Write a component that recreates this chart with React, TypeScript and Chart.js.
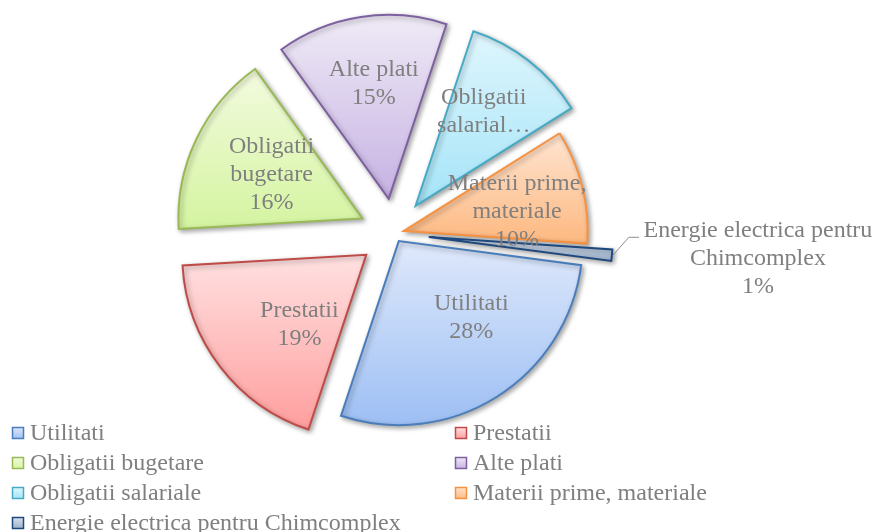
import React, { useEffect, useRef } from "react";
import { Chart, registerables } from "chart.js";

Chart.register(...registerables);

// ---------- data ----------
const categories = [
  "Utilitati",
  "Prestatii",
  "Obligatii bugetare",
  "Alte plati",
  "Obligatii salariale",
  "Materii prime, materiale",
  "Energie electrica pentru Chimcomplex",
];
const values = [28, 19, 16, 15, 11, 10, 1];
const sliceLabelLines = [
  ["Utilitati"],
  ["Prestatii"],
  ["Obligatii", "bugetare"],
  ["Alte plati"],
  ["Obligatii", "salarial…"],
  ["Materii prime,", "materiale"],
  ["Energie electrica pentru", "Chimcomplex"],
];
const showPercent = [true, true, true, true, false, true, true];

// ---------- styles ----------
const explode = [9, 35, 35, 35, 35, 10, 35];
const topColors = ["#dfe9fb", "#ffe1e1", "#f3fbdf", "#efeaf6", "#dff6fd", "#ffe5d1", "#d9e2ee"];
const bottomColors = ["#9dbff4", "#ff9e9e", "#d4f4a0", "#c6b2e3", "#a4e4f8", "#fdb880", "#9cb0cb"];
const borderColors = ["#4a7ebb", "#be4b48", "#98b954", "#7d60a0", "#46aac5", "#f69240", "#1f497d"];
// label placement: fraction of radius from exploded centre, angle shift in degrees
const labelDist = [0.574, 0.525, 0.549, 0.629, 0.63, 0.625, 0];
const labelShift = [-11.2, -8.7, 0.4, 1.3, -2.1, 4.5, 0];
const externalLabel = [false, false, false, false, false, false, true];
const legendCols = [12, 455];
const legendRowStart = 433;
const legendRowGap = 30;

const FONT = '24px "Liberation Serif", "Times New Roman", serif';
const TEXT_COLOR = "#7f7f7f";
const LINE_H = 28;

function sectorYRange(cx: number, cy: number, r: number, a0: number, a1: number) {
  const ys = [cy, cy + r * Math.sin(a0), cy + r * Math.sin(a1)];
  const TAU = Math.PI * 2;
  for (let k = -2; k <= 4; k++) {
    const a = Math.PI / 2 + k * Math.PI;
    if (a >= a0 && a <= a1) ys.push(cy + r * Math.sin(a));
  }
  void TAU;
  return [Math.min(...ys), Math.max(...ys)];
}

const piePlugin = {
  id: "piePlugin",
  afterDatasetUpdate(chart: any, args: any) {
    const meta = chart.getDatasetMeta(args.index);
    const ctx = chart.ctx;
    meta.data.forEach((el: any, i: number) => {
      const mid = (el.startAngle + el.endAngle) / 2;
      el.x = el.x + Math.cos(mid) * explode[i];
      el.y = el.y + Math.sin(mid) * explode[i];
      const [y0, y1] = sectorYRange(el.x, el.y, el.outerRadius, el.startAngle, el.endAngle);
      const g = ctx.createLinearGradient(0, y0, 0, y1);
      g.addColorStop(0, topColors[i]);
      g.addColorStop(1, bottomColors[i]);
      el.options = Object.assign({}, el.options, { backgroundColor: g });
    });
  },
  beforeDatasetsDraw(chart: any) {
    const ctx = chart.ctx;
    ctx.save();
    ctx.shadowColor = "rgba(0,0,0,0.35)";
    ctx.shadowBlur = 5;
    ctx.shadowOffsetX = 2;
    ctx.shadowOffsetY = 2;
  },
  afterDatasetsDraw(chart: any) {
    const ctx = chart.ctx;
    ctx.restore();
    const meta = chart.getDatasetMeta(0);
    const total = values.reduce((a, b) => a + b, 0);
    ctx.save();
    ctx.font = FONT;
    ctx.fillStyle = TEXT_COLOR;
    ctx.textAlign = "center";
    ctx.textBaseline = "middle";
    meta.data.forEach((el: any, i: number) => {
      const lines = sliceLabelLines[i].slice();
      if (showPercent[i]) lines.push(Math.round((values[i] / total) * 100) + "%");
      const mid = (el.startAngle + el.endAngle) / 2;
      const R = el.outerRadius;
      if (externalLabel[i]) {
        const ox = el.x + Math.cos(mid) * R;
        const oy = el.y + Math.sin(mid) * R;
        ctx.save();
        ctx.strokeStyle = "#8c8c8c";
        ctx.lineWidth = 1;
        ctx.beginPath();
        ctx.moveTo(ox + 1, oy);
        ctx.lineTo(ox + 17, oy - 18);
        ctx.lineTo(ox + 27, oy - 18);
        ctx.stroke();
        ctx.restore();
        lines.forEach((t, k) => ctx.fillText(t, ox + 146, oy - 25 + k * LINE_H));
        return;
      }
      const a = mid + (labelShift[i] * Math.PI) / 180;
      const px = el.x + Math.cos(a) * R * labelDist[i];
      const py = el.y + Math.sin(a) * R * labelDist[i];
      const n = lines.length;
      lines.forEach((t, k) => ctx.fillText(t, px, py + (k - (n - 1) / 2) * LINE_H));
    });
    ctx.restore();

    // legend (two columns)
    ctx.save();
    ctx.font = FONT;
    ctx.textBaseline = "middle";
    ctx.textAlign = "left";
    categories.forEach((name, i) => {
      const col = i % 2;
      const row = Math.floor(i / 2);
      const x = legendCols[col];
      const y = legendRowStart + row * legendRowGap;
      const g = ctx.createLinearGradient(0, y - 6, 0, y + 6);
      g.addColorStop(0, topColors[i]);
      g.addColorStop(1, bottomColors[i]);
      ctx.fillStyle = g;
      ctx.fillRect(x, y - 6, 12, 12);
      ctx.strokeStyle = borderColors[i];
      ctx.lineWidth = 1.5;
      ctx.strokeRect(x + 0.5, y - 5.5, 11, 11);
      ctx.fillStyle = TEXT_COLOR;
      ctx.fillText(name, x + 18, y + 1);
    });
    ctx.restore();
  },
};

export default function App() {
  const ref = useRef<HTMLCanvasElement | null>(null);
  useEffect(() => {
    if (!ref.current) return;
    const chart = new Chart(ref.current, {
      type: "pie",
      data: {
        labels: categories,
        datasets: [
          {
            data: values,
            backgroundColor: topColors,
            borderColor: borderColors,
            borderWidth: 2,
            borderJoinStyle: "miter",
          } as any,
        ],
      },
      options: {
        responsive: false,
        animation: false,
        rotation: 97.5,
        radius: 184,
        layout: { padding: { left: 0, right: 87, top: 0, bottom: 65 } },
        plugins: {
          legend: { display: false },
          tooltip: { enabled: false },
        },
        events: [],
      } as any,
      plugins: [piePlugin],
    });
    return () => chart.destroy();
  }, []);
  return (
    <div style={{ position: "absolute", left: 0, top: 0, width: 875, height: 532, background: "#fff" }}>
      <canvas ref={ref} width={875} height={532} style={{ width: 875, height: 532, display: "block" }} />
    </div>
  );
}
